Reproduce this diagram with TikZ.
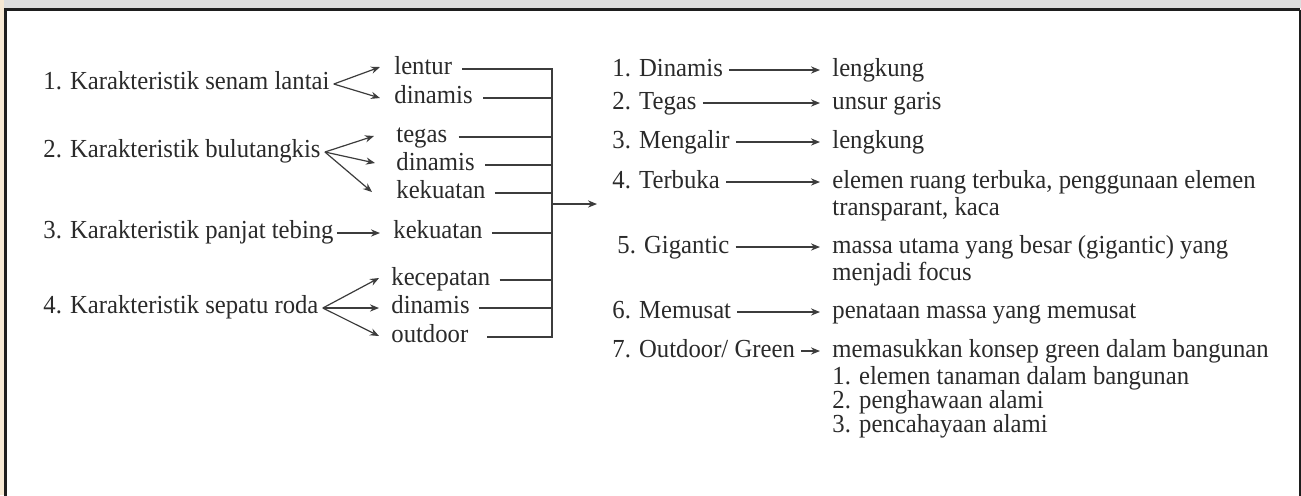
\documentclass[tikz,border=0pt]{standalone}
\usepackage{fontspec}
\setmainfont{Liberation Serif}[FakeStretch=0.95]
\usetikzlibrary{arrows.meta,calc}
\definecolor{ink}{HTML}{2A2A2A}
\definecolor{wirec}{HTML}{3C3C3C}
\definecolor{frameink}{HTML}{1E1E1E}
\definecolor{band}{HTML}{DEDEDE}
\definecolor{edgec}{HTML}{F7E9D4}
\begin{document}
\begin{tikzpicture}[x=0.5pt,y=-0.5pt,
  txt/.style={anchor=west,inner sep=0pt,text height=5.8pt,text depth=0pt,
    text=ink,font=\fontsize{13}{15}\selectfont},
  wire/.style={draw=wirec,line width=0.6pt},
  arr/.style={wire,-{Stealth[length=4.5pt,width=3.6pt]}},
]
\useasboundingbox (0,0) rectangle (1301,495);
% page, side strip, top band and frame
\fill[white] (0,0) rectangle (1301,495);
\fill[edgec] (0,0) rectangle (4,495);
\fill[band] (4,0) rectangle (1301,8);
\draw[frameink,line width=1.5pt] (5.5,496) -- (5.5,9.5) -- (1299.5,9.5);
\draw[frameink,line width=1pt] (1299.5,9.5) -- (1299.5,496);

% left column: sports
\node[txt] (k1) at (43,84)  {1. Karakteristik senam lantai};
\node[txt] (k2) at (43,152) {2. Karakteristik bulutangkis};
\node[txt] (k3) at (43,233) {3. Karakteristik panjat tebing};
\node[txt] (k4) at (43,308) {4. Karakteristik sepatu roda};

% middle column: characteristics
\node[txt] (m1) at (394,69)  {lentur};
\node[txt] (m2) at (394,98)  {dinamis};
\node[txt] (m3) at (396,137) {tegas};
\node[txt] (m4) at (396,165) {dinamis};
\node[txt] (m5) at (396,193) {kekuatan};
\node[txt] (m6) at (393,233) {kekuatan};
\node[txt] (m7) at (391,280) {kecepatan};
\node[txt] (m8) at (391,308) {dinamis};
\node[txt] (m9) at (391,337) {outdoor};

% branch arrows
\coordinate (v1) at ($(k1.east)+(4,0)$);
\coordinate (v2) at ($(k2.east)+(4,0)$);
\coordinate (v3) at ($(k3.east)+(3,0)$);
\coordinate (v4) at ($(k4.east)+(4,0)$);
\draw[arr] (v1) -- ($(m1.west)+(-14,-2)$);
\draw[arr] (v1) -- ($(m2.west)+(-14,0)$);
\draw[arr] (v2) -- ($(m3.west)+(-22,-1)$);
\draw[arr] (v2) -- ($(m4.west)+(-21,-2)$);
\draw[arr] (v2) -- ($(m5.west)+(-24,-1)$);
\draw[arr] (v3) -- ($(m6.west)+(-13,0)$);
\draw[arr] (v4) -- ($(m7.west)+(-12,-2)$);
\draw[arr] (v4) -- ($(m8.west)+(-12,0)$);
\draw[arr] (v4) -- ($(m9.west)+(-12,-1)$);

% collecting bar
\coordinate (bt) at (552,69);
\draw[wire] ($(m1.east)+(10,0)$) -- (m1 -| bt) -- (m9 -| bt) -- ($(m9.east)+(18,0)$);
\foreach \m/\g in {m2/10,m3/11,m4/10,m5/9,m6/9,m7/9,m8/9}
  \draw[wire] ($(\m.east)+(\g,0)$) -- (\m -| bt);
\coordinate (hub) at (552,204);
\coordinate (out) at (597,204);
\draw[arr] (hub) -- (out);

% right column: design principles
\node[txt] (r1) at (612,71)  {1. Dinamis};
\node[txt] (r2) at (612,104) {2. Tegas};
\node[txt] (r3) at (612,143) {3. Mengalir};
\node[txt] (r4) at (612,183) {4. Terbuka};
\node[txt] (r5) at (617,248) {5. Gigantic};
\node[txt] (r6) at (612,313) {6. Memusat};
\node[txt] (r7) at (612,352) {7. Outdoor/ Green};

\node[txt] (d1)  at (832,71)  {lengkung};
\node[txt] (d2)  at (832,104) {unsur garis};
\node[txt] (d3)  at (832,143) {lengkung};
\node[txt] (d4)  at (832,183) {elemen ruang terbuka, penggunaan elemen};
\node[txt] (d4b) at (832,210) {transparant, kaca};
\node[txt] (d5)  at (832,248) {massa utama yang besar (gigantic) yang};
\node[txt] (d5b) at (832,275) {menjadi focus};
\node[txt] (d6)  at (832,313) {penataan massa yang memusat};
\node[txt] (d7)  at (832,352) {memasukkan konsep green dalam bangunan};
\node[txt] (d7a) at (832,379) {1. elemen tanaman dalam bangunan};
\node[txt] (d7b) at (832,403) {2. penghawaan alami};
\node[txt] (d7c) at (832,427) {3. pencahayaan alami};

\foreach \r/\d in {r1/d1,r2/d2,r3/d3,r4/d4,r5/d5,r6/d6,r7/d7}
  \draw[arr] ($(\r.east)+(6,-1)$) -- ($(\d.west)+(-12,-1)$);
\end{tikzpicture}
\end{document}
